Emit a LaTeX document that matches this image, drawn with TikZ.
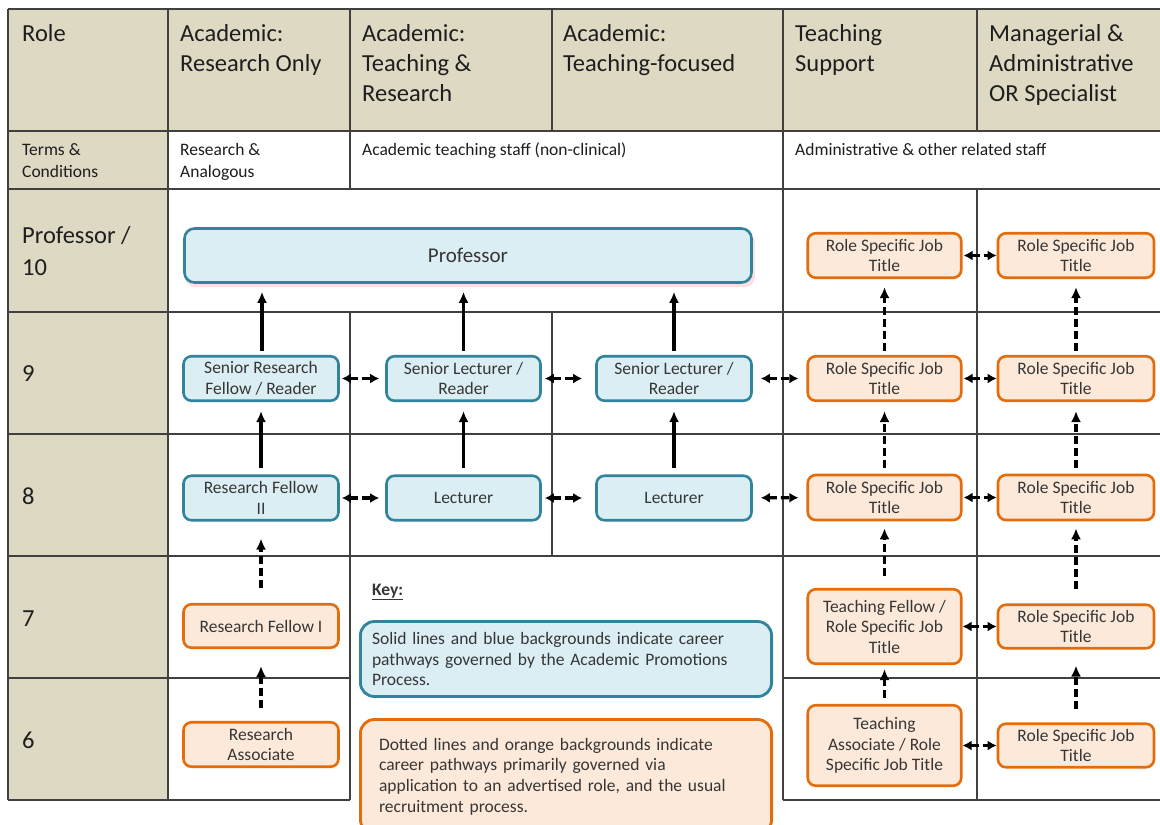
\documentclass[tikz,border=0pt]{standalone}
\usepackage{fontspec}
\setmainfont{Carlito}
\usetikzlibrary{arrows.meta}
\definecolor{beige}{HTML}{DDD9C3}
\definecolor{tealb}{HTML}{31849B}
\definecolor{bluef}{HTML}{DBEEF4}
\definecolor{orangeb}{HTML}{E46C0A}
\definecolor{orangef}{HTML}{FDE9D9}
\definecolor{gridc}{HTML}{404040}
\definecolor{txt}{HTML}{1E1E1E}
\definecolor{boxtxt}{HTML}{363636}
\begin{document}
\begin{tikzpicture}[x=1pt,y=-1pt,
  gridline/.style={gridc, line width=1.2pt},
  hdr/.style={anchor=north west, inner sep=0pt, align=left, text=txt, font=\fontsize{24.5}{30}\selectfont},
  rowlbl/.style={anchor=base west, inner sep=0pt, text=txt, font=\fontsize{24.5}{30}\selectfont},
  tc/.style={anchor=north west, inner sep=0pt, align=left, text=txt, font=\fontsize{17.5}{22}\selectfont},
  tcline/.style={anchor=base west, inner sep=0pt, text=txt, font=\fontsize{17.5}{22}\selectfont},
  jobbox/.style={rounded corners=8pt, line width=2.6pt, inner sep=1pt, align=center, text=boxtxt, font=\fontsize{17.5}{20.5}\selectfont},
  bluebox/.style={jobbox, draw=tealb, fill=bluef},
  orangebox/.style={jobbox, draw=orangeb, fill=orangef},
  keytext/.style={align=left, text=boxtxt, font=\fontsize{17.5}{20.6}\selectfont, line width=2.8pt, rounded corners=14pt},
  promo/.style={-{Latex[length=11pt,width=10pt]}, line width=3.2pt, black},
  dpromo/.style={promo, dash pattern=on 8pt off 4pt},
  lateral/.style={{Latex[length=9pt,width=10pt]}-{Latex[length=9pt,width=10pt]}, line width=3.2pt, black, dash pattern=on 8pt off 4pt}
]
\clip (0,0) rectangle (1160,825);
\fill[white] (0,0) rectangle (1160,825);
% backgrounds
\fill[beige] (8,9) rectangle (1160,131);
\fill[beige] (8,131) rectangle (168,800);
% grid
\draw[gridline] (8,9) -- (1160,9);
\draw[gridline] (8,131) -- (1160,131);
\draw[gridline] (8,189) -- (1160,189);
\draw[gridline] (8,312) -- (1160,312);
\draw[gridline] (8,434) -- (1160,434);
\draw[gridline] (8,556) -- (1160,556);
\draw[gridline] (8,678) -- (350,678);
\draw[gridline] (783,678) -- (1160,678);
\draw[gridline] (8,800) -- (350,800);
\draw[gridline] (783,800) -- (1160,800);
\draw[gridline] (8,9) -- (8,800);
\draw[gridline] (168,9) -- (168,800);
\draw[gridline] (350,9) -- (350,189);
\draw[gridline] (350,312) -- (350,800);
\draw[gridline] (552,9) -- (552,131);
\draw[gridline] (552,312) -- (552,556);
\draw[gridline] (783,9) -- (783,800);
\draw[gridline] (977,9) -- (977,131);
\draw[gridline] (977,189) -- (977,800);
% header texts
\node[hdr] (hrole) at (22,20) {\strut Role};
\node[hdr] (hro) at (180,20) {\strut Academic:\\Research Only};
\node[hdr] (htr) at (362,20) {\strut Academic:\\Teaching \&\\Research};
\node[hdr] (htf) at (563,20) {\strut Academic:\\Teaching-focused};
\node[hdr] (hts) at (795,20) {\strut Teaching\\Support};
\node[hdr] (hmas) at (989,20) {\strut Managerial \&\\Administrative\\OR Specialist};
% terms & conditions row
\node[tc] (tcl) at (22,139.6) {\strut Terms \&\\Conditions};
\node[tc] (tcra) at (180,139.6) {\strut Research \&\\Analogous};
\node[tcline] (tcat) at (362,155) {Academic teaching staff (non-clinical)};
\node[tcline] (tcad) at (795,155) {Administrative \& other related staff};
% row labels
\node[hdr, font=\fontsize{24.5}{32}\selectfont] (rprof) at (22,220.6) {\strut Professor /\\10};
\node[rowlbl] (r9) at (22,381) {9};
\node[rowlbl] (r8) at (22,504) {8};
\node[rowlbl] (r7) at (22,626) {7};
\node[rowlbl] (r6) at (22,748) {6};
% academic boxes
\fill[red!12, rounded corners=10pt] (185,232) rectangle (755,287);
\node[bluebox, minimum width=567pt, minimum height=54pt, rounded corners=10pt, font=\fontsize{21}{25}\selectfont] (prof) at (468,255.5) {Professor};
\node[bluebox, minimum width=155pt, minimum height=44.5pt] (srf) at (261,378.5) {Senior Research\\Fellow / Reader};
\node[bluebox, minimum width=155pt, minimum height=44.5pt] (rf2) at (261,498) {Research Fellow\\II};
\node[bluebox, minimum width=154pt, minimum height=44.5pt] (sl1) at (463.5,378.5) {Senior Lecturer /\\Reader};
\node[bluebox, minimum width=154pt, minimum height=44.5pt] (lec1) at (463.5,498) {Lecturer};
\node[bluebox, minimum width=155pt, minimum height=44.5pt] (sl2) at (674,378.5) {Senior Lecturer /\\Reader};
\node[bluebox, minimum width=155pt, minimum height=44.5pt] (lec2) at (674,498) {Lecturer};
\node[orangebox, minimum width=155pt, minimum height=43.5pt] (rf1) at (261,626) {Research Fellow I};
\node[orangebox, minimum width=155pt, minimum height=44.5pt] (ra) at (261,744.5) {Research\\Associate};
% teaching support column
\node[orangebox, minimum width=153.5pt, minimum height=44.5pt] (rs10a) at (884.5,255.5) {Role Specific Job\\Title};
\node[orangebox, minimum width=153.5pt, minimum height=44.5pt] (rs9a) at (884.5,378.5) {Role Specific Job\\Title};
\node[orangebox, minimum width=153.5pt, minimum height=45pt] (rs8a) at (884.5,497.5) {Role Specific Job\\Title};
\node[orangebox, minimum width=153.5pt, minimum height=74.5pt] (tf) at (884.5,626.5) {Teaching Fellow /\\Role Specific Job\\Title};
\node[orangebox, minimum width=153.5pt, minimum height=80.5pt] (ta) at (884.5,745.5) {Teaching\\Associate / Role\\Specific Job Title};
% managerial column
\node[orangebox, minimum width=156pt, minimum height=44.5pt] (rs10b) at (1076,255.5) {Role Specific Job\\Title};
\node[orangebox, minimum width=156pt, minimum height=44.5pt] (rs9b) at (1076,378.5) {Role Specific Job\\Title};
\node[orangebox, minimum width=156pt, minimum height=45pt] (rs8b) at (1076,497.5) {Role Specific Job\\Title};
\node[orangebox, minimum width=156pt, minimum height=43.5pt] (rs7b) at (1076,626.5) {Role Specific Job\\Title};
\node[orangebox, minimum width=156pt, minimum height=43.5pt] (rs6b) at (1076,745.5) {Role Specific Job\\Title};
% key
\node[anchor=base west, inner sep=0pt, text=boxtxt, font=\fontsize{17.5}{20.5}\selectfont\bfseries] (keylbl) at (372,595) {\underline{Key:}};
\node[keytext, draw=tealb, fill=bluef, minimum width=411pt, minimum height=75pt, inner xsep=11.6pt, text width=388pt] (keyb) at (566,659) {Solid lines and blue backgrounds indicate career\\pathways governed by the Academic Promotions\\Process.};
\node[keytext, draw=orangeb, fill=orangef, minimum width=411pt, minimum height=114pt, inner xsep=18.6pt, text width=374pt] (keyo) at (566,776.5) {Dotted lines and orange backgrounds indicate\\career pathways primarily governed via\\application to an advertised role, and the usual\\recruitment process.};
% solid promotion arrows
\draw[promo, shorten <=6pt, shorten >=9pt] (rf2) -- (srf);
\draw[promo, shorten <=4pt, shorten >=8pt] (srf.north -| 262,0) -- (prof.south -| 262,0);
\draw[promo, shorten <=6pt, shorten >=9pt] (lec1) -- (sl1);
\draw[promo, shorten <=4pt, shorten >=8pt] (sl1.north) -- (prof.south -| sl1.north);
\draw[promo, shorten <=6pt, shorten >=9pt] (lec2) -- (sl2);
\draw[promo, shorten <=4pt, shorten >=8pt] (sl2.north) -- (prof.south -| sl2.north);
% dotted promotion arrows
\draw[dpromo, shorten <=15pt, shorten >=17pt] (rf1) -- (rf2);
\draw[dpromo, shorten <=13pt, shorten >=17pt] (ra) -- (rf1);
\draw[dpromo, shorten <=4pt, shorten >=8pt] (rs9a) -- (rs10a);
\draw[dpromo, shorten <=6pt, shorten >=9pt] (rs8a) -- (rs9a);
\draw[dpromo, shorten <=12pt, shorten >=7pt] (tf) -- (rs8a);
\draw[dpromo, shorten <=6pt, shorten >=4pt] (ta) -- (tf);
\draw[dpromo, shorten <=4pt, shorten >=8pt] (rs9b) -- (rs10b);
\draw[dpromo, shorten <=6pt, shorten >=9pt] (rs8b) -- (rs9b);
\draw[dpromo, shorten <=14pt, shorten >=7pt] (rs7b) -- (rs8b);
\draw[dpromo, shorten <=13pt, shorten >=16pt] (rs6b) -- (rs7b);
% lateral arrows
\draw[lateral, shorten <=2pt, shorten >=6pt] (srf) -- (sl1);
\draw[lateral, shorten <=3pt, shorten >=13pt] (sl1) -- (sl2);
\draw[lateral, shorten <=8pt, shorten >=8pt] (sl2) -- (rs9a);
\draw[lateral, shorten <=1pt, shorten >=0pt] (rs9a) -- (rs9b);
\draw[lateral, shorten <=2pt, shorten >=6pt] (rf2) -- (lec1);
\draw[lateral, shorten <=3pt, shorten >=13pt] (lec1) -- (lec2);
\draw[lateral, shorten <=8pt, shorten >=8pt] (lec2) -- (rs8a);
\draw[lateral, shorten <=1pt, shorten >=0pt] (rs8a) -- (rs8b);
\draw[lateral, shorten <=1pt, shorten >=0pt] (rs10a) -- (rs10b);
\draw[lateral, shorten <=0pt, shorten >=0pt] (tf) -- (rs7b);
\draw[lateral, shorten <=0pt, shorten >=0pt] (ta) -- (rs6b);
\end{tikzpicture}
\end{document}
